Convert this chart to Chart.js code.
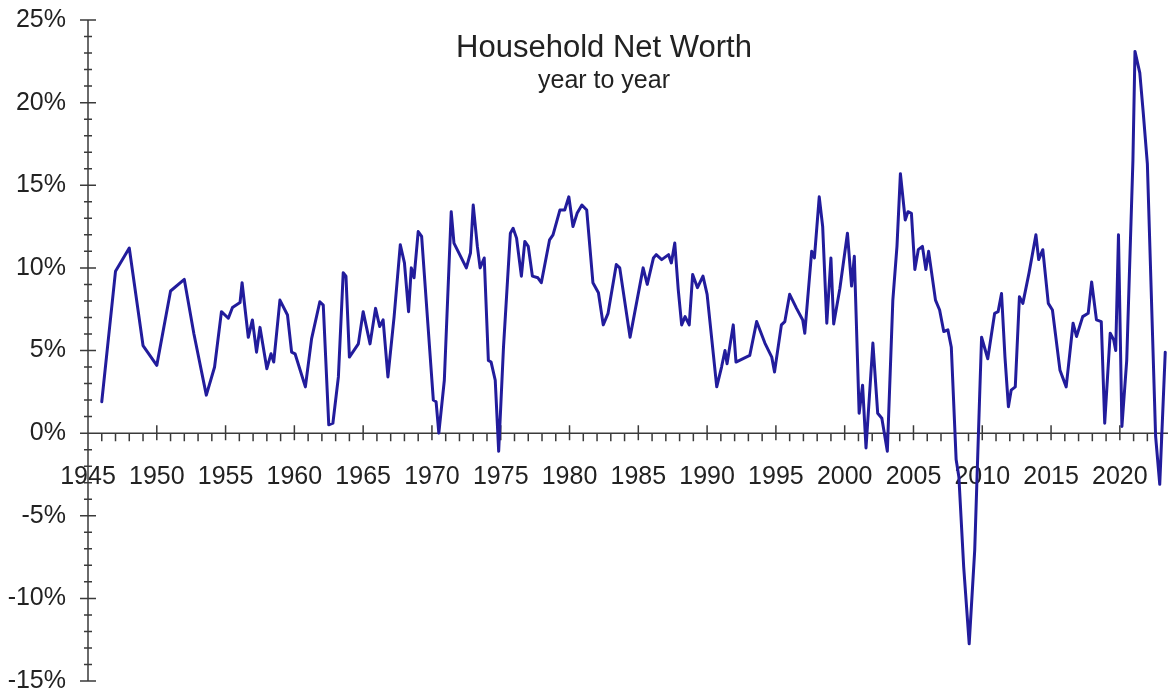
<!DOCTYPE html>
<html>
<head>
<meta charset="utf-8">
<title>Household Net Worth</title>
<script src="https://cdn.jsdelivr.net/npm/chart.js@4.4.1/dist/chart.umd.min.js"></script>
<style>
  html, body { margin: 0; padding: 0; background: #fff; }
  canvas { display: block; }
</style>
</head>
<body>
<canvas id="chart" width="1168" height="698"></canvas>
<script>
// Household net worth, % change year to year
const years = [
  1946.0, 1947.0, 1948.0, 1949.0, 1950.0, 1951.0, 1952.0, 1952.7, 1953.6, 1954.2,
  1954.7, 1955.2, 1955.5, 1956.05, 1956.2, 1956.65, 1956.95, 1957.25, 1957.5, 1958.0,
  1958.3, 1958.5, 1958.95, 1959.5, 1959.8, 1960.05, 1960.8, 1961.25, 1961.85, 1962.1,
  1962.5, 1962.8, 1963.2, 1963.55, 1963.75, 1964.0, 1964.65, 1965.0, 1965.5, 1965.9,
  1966.2, 1966.45, 1966.8, 1967.25, 1967.7, 1968.0, 1968.3, 1968.5, 1968.7, 1969.0,
  1969.25, 1969.7, 1970.1, 1970.3, 1970.5, 1970.9, 1971.4, 1971.6, 1971.9, 1972.5,
  1972.8, 1973.0, 1973.3, 1973.5, 1973.8, 1974.1, 1974.3, 1974.6, 1974.85, 1975.2,
  1975.7, 1975.9, 1976.15, 1976.5, 1976.75, 1977.0, 1977.3, 1977.7, 1977.95, 1978.55,
  1978.8, 1979.3, 1979.65, 1979.95, 1980.25, 1980.55, 1980.9, 1981.25, 1981.7, 1982.1,
  1982.45, 1982.8, 1983.4, 1983.65, 1984.4, 1985.35, 1985.65, 1986.1, 1986.3, 1986.7,
  1987.2, 1987.4, 1987.65, 1987.9, 1988.15, 1988.4, 1988.7, 1988.95, 1989.3, 1989.7,
  1990.0, 1990.7, 1991.05, 1991.3, 1991.45, 1991.9, 1992.1, 1993.1, 1993.6, 1994.2,
  1994.7, 1994.9, 1995.4, 1995.65, 1996.0, 1996.5, 1996.95, 1997.1, 1997.6, 1997.8,
  1998.15, 1998.4, 1998.7, 1999.0, 1999.2, 1999.65, 2000.2, 2000.5, 2000.7, 2001.05,
  2001.3, 2001.55, 2002.05, 2002.4, 2002.7, 2003.1, 2003.5, 2003.8, 2004.05, 2004.4,
  2004.6, 2004.85, 2005.1, 2005.35, 2005.65, 2005.9, 2006.1, 2006.6, 2006.9, 2007.2,
  2007.5, 2007.75, 2008.1, 2008.3, 2008.65, 2009.05, 2009.45, 2009.8, 2009.95, 2010.4,
  2010.9, 2011.15, 2011.4, 2011.65, 2011.9, 2012.1, 2012.4, 2012.7, 2012.95, 2013.4,
  2013.9, 2014.1, 2014.4, 2014.8, 2015.1, 2015.65, 2016.1, 2016.6, 2016.85, 2017.3,
  2017.7, 2017.95, 2018.3, 2018.65, 2018.9, 2019.3, 2019.55, 2019.7, 2019.9, 2020.15,
  2020.5, 2020.95, 2021.1, 2021.45, 2021.7, 2022.0, 2022.6, 2022.9, 2023.3
];
const netWorthYoY = [
  1.9, 9.8, 11.2, 5.3, 4.1, 8.6, 9.3, 6.0, 2.3, 4.0,
  7.35, 6.95, 7.6, 7.9, 9.1, 5.8, 6.85, 4.9, 6.4, 3.9,
  4.8, 4.3, 8.05, 7.15, 4.9, 4.8, 2.8, 5.7, 7.95, 7.75,
  0.5, 0.6, 3.4, 9.7, 9.5, 4.6, 5.4, 7.35, 5.4, 7.55,
  6.45, 6.85, 3.4, 7.05, 11.4, 10.3, 7.35, 10.0, 9.4, 12.2,
  11.9, 6.65, 2.0, 1.9, 0.0, 3.2, 13.4, 11.5, 11.0, 10.0,
  10.9, 13.8, 11.3, 10.0, 10.6, 4.4, 4.3, 3.2, -1.1, 5.2,
  12.1, 12.4, 11.8, 9.5, 11.6, 11.3, 9.5, 9.4, 9.1, 11.7,
  12.0, 13.5, 13.5, 14.3, 12.5, 13.3, 13.8, 13.5, 9.1, 8.5,
  6.55, 7.25, 10.2, 10.0, 5.8, 10.0, 9.0, 10.6, 10.8, 10.5,
  10.8, 10.3, 11.5, 8.7, 6.55, 7.05, 6.55, 9.6, 8.8, 9.5,
  8.4, 2.8, 4.0, 5.0, 4.2, 6.55, 4.3, 4.7, 6.75, 5.45,
  4.6, 3.7, 6.55, 6.75, 8.4, 7.55, 6.85, 6.05, 11.0, 10.6,
  14.3, 12.5, 6.65, 10.6, 6.6, 8.75, 12.1, 8.9, 10.7, 1.2,
  2.9, -0.9, 5.45, 1.2, 0.9, -1.1, 8.05, 11.3, 15.7, 12.9,
  13.4, 13.3, 9.9, 11.1, 11.3, 9.9, 11.0, 8.05, 7.45, 6.15,
  6.25, 5.2, -1.6, -2.65, -8.1, -12.75, -7.1, 2.0, 5.8, 4.5,
  7.25, 7.35, 8.45, 4.6, 1.6, 2.6, 2.8, 8.25, 7.85, 9.7,
  12.0, 10.5, 11.1, 7.85, 7.45, 3.8, 2.8, 6.65, 5.85, 7.05,
  7.25, 9.15, 6.85, 6.75, 0.6, 6.05, 5.65, 5.0, 12.0, 0.4,
  4.4, 16.5, 23.1, 21.8, 19.4, 16.3, -0.2, -3.1, 4.9
];

const yearTicks = [1945, 1950, 1955, 1960, 1965, 1970, 1975, 1980, 1985, 1990, 1995, 2000, 2005, 2010, 2015, 2020];
const pctTicks = [-15, -10, -5, 0, 5, 10, 15, 20, 25];

const titleText = 'Household Net Worth';
const subtitleText = 'year to year';

const fontFamily = '"Liberation Sans", Arial, Helvetica, sans-serif';
const axisColor = '#3a3a3a';
const textColor = '#222';
const lineColor = '#221c9c';

// axis lines with crossing major ticks and small minor ticks
const axesPlugin = {
    id: 'axesPlugin',
    beforeDatasetsDraw(chart) {
        const ctx = chart.ctx;
        const xs = chart.scales.x;
        const ys = chart.scales.y;
        const area = chart.chartArea;
        const x0 = xs.getPixelForValue(xs.min);
        const y0 = ys.getPixelForValue(0);

        ctx.save();
        ctx.strokeStyle = axisColor;
        ctx.lineWidth = 1.5;
        ctx.beginPath();
        // y axis
        ctx.moveTo(x0, area.top);
        ctx.lineTo(x0, area.bottom);
        // x axis at 0%
        ctx.moveTo(area.left, y0);
        ctx.lineTo(area.right, y0);

        for (let v = ys.min; v <= ys.max; v++) {
            const py = ys.getPixelForValue(v);
            const len = v % 5 === 0 ? 8 : 4;
            ctx.moveTo(x0 - len, py);
            ctx.lineTo(x0 + len, py);
        }
        for (let yr = Math.ceil(xs.min); yr <= xs.max; yr++) {
            const px = xs.getPixelForValue(yr);
            if (yr % 5 === 0) {
                ctx.moveTo(px, y0 - 8);
                ctx.lineTo(px, y0 + 7);
            } else {
                ctx.moveTo(px, y0);
                ctx.lineTo(px, y0 + 8);
            }
        }
        ctx.stroke();
        ctx.restore();
    },
    afterDraw(chart) {
        const ctx = chart.ctx;
        ctx.save();
        ctx.fillStyle = textColor;
        ctx.textAlign = 'center';
        ctx.textBaseline = 'alphabetic';
        ctx.font = '31px ' + fontFamily;
        ctx.fillText(titleText, 604, 57);
        ctx.font = '25px ' + fontFamily;
        ctx.fillText(subtitleText, 604, 88);
        ctx.restore();
    }
};

const points = years.map((yr, i) => ({ x: yr, y: netWorthYoY[i] }));

new Chart(document.getElementById('chart'), {
    type: 'line',
    data: {
        datasets: [{
            label: 'Household net worth, y/y',
            data: points,
            borderColor: lineColor,
            borderWidth: 3,
            borderJoinStyle: 'round',
            borderCapStyle: 'round',
            pointRadius: 0,
            tension: 0,
            fill: false
        }]
    },
    options: {
        responsive: false,
        animation: false,
        layout: { padding: { top: 20, right: 0, bottom: 17, left: 0 } },
        plugins: {
            legend: { display: false },
            tooltip: { enabled: false }
        },
        scales: {
            x: {
                type: 'linear',
                position: { y: 0 },
                min: 1945,
                max: 2023.5,
                afterBuildTicks: scale => {
                    scale.ticks = yearTicks.map(v => ({ value: v }));
                },
                afterFit: scale => {
                    scale.paddingLeft = 0;
                    scale.paddingRight = 0;
                },
                grid: { display: false },
                border: { display: false },
                ticks: {
                    autoSkip: false,
                    maxRotation: 0,
                    padding: 21,
                    color: textColor,
                    font: { family: fontFamily, size: 25 },
                    callback: value => String(value)
                }
            },
            y: {
                min: -15,
                max: 25,
                afterBuildTicks: scale => {
                    scale.ticks = pctTicks.map(v => ({ value: v }));
                },
                afterFit: scale => {
                    scale.width = 88;
                    scale.paddingTop = 0;
                    scale.paddingBottom = 0;
                },
                grid: { display: false },
                border: { display: false },
                ticks: {
                    padding: 14,
                    color: textColor,
                    font: { family: fontFamily, size: 25 },
                    callback: value => value + '%'
                }
            }
        }
    },
    plugins: [axesPlugin]
});
</script>
</body>
</html>
